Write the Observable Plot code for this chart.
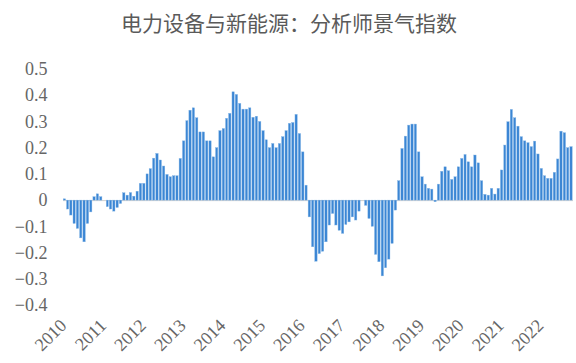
<!DOCTYPE html>
<html>
<head>
<meta charset="utf-8">
<script src="https://cdn.jsdelivr.net/npm/d3@7"></script>
<script src="https://cdn.jsdelivr.net/npm/@observablehq/plot@0.6"></script>
<style>
  html, body { margin: 0; padding: 0; background: #fff; }
  #title { height: 44px; width: 576px; text-align: center; font-family: "Noto Sans CJK SC", sans-serif;
           font-size: 21px; line-height: 44px; color: #5a5a5a; padding-left: 2px; box-sizing: border-box; }
</style>
</head>
<body>
<div id="title">电力设备与新能源：分析师景气指数</div>
<div id="chart"></div>
<script>
// Monthly analyst sentiment index, Jan 2010 – Oct 2022
const startMonth = "2010-01-01";
const endMonth = "2022-11-01";
const values = [
  0.005, -0.034, -0.057, -0.089, -0.108, -0.144, -0.159, -0.089, -0.045, 0.013, 0.024, 0.013,
  0, -0.025, -0.034, -0.042, -0.028, -0.013, 0.028, 0.019, 0.029, 0.015, 0.034, 0.064,
  0.064, 0.10, 0.12, 0.16, 0.178, 0.153, 0.13, 0.098, 0.089, 0.093, 0.093, 0.159,
  0.226, 0.303, 0.343, 0.352, 0.314, 0.26, 0.26, 0.226, 0.226, 0.165, 0.20, 0.265,
  0.273, 0.312, 0.331, 0.413, 0.403, 0.369, 0.347, 0.347, 0.352, 0.316, 0.32, 0.30,
  0.265, 0.23, 0.20, 0.216, 0.20, 0.216, 0.242, 0.265, 0.293, 0.296, 0.327, 0.254,
  0.184, 0.057, -0.064, -0.178, -0.233, -0.204, -0.195, -0.159, -0.095, -0.051, -0.095, -0.115,
  -0.127, -0.093, -0.083, -0.064, -0.076, -0.042, 0, -0.02, -0.07, -0.10, -0.207, -0.235,
  -0.289, -0.258, -0.225, -0.165, -0.038, 0.074, 0.197, 0.244, 0.286, 0.29, 0.29, 0.184,
  0.089, 0.061, 0.045, 0.042, -0.006, 0.061, 0.11, 0.127, 0.112, 0.079, 0.089, 0.127,
  0.159, 0.174, 0.146, 0.127, 0.172, 0.142, 0.074, 0.022, 0.019, 0.045, 0.023, 0.045,
  0.115, 0.21, 0.299, 0.346, 0.314, 0.282, 0.242, 0.226, 0.219, 0.204, 0.225, 0.176,
  0.121, 0.093, 0.083, 0.083, 0.106, 0.157, 0.263, 0.257, 0.20, 0.204
];
const yTicks = [-0.4, -0.3, -0.2, -0.1, 0, 0.1, 0.2, 0.3, 0.4, 0.5];
const yearTicks = d3.utcYears(new Date("2010-01-01"), new Date("2023-01-01"));

const months = d3.utcMonths(new Date(startMonth), new Date(endMonth));
const data = months.map((date, i) => ({date, value: values[i]}));

const fmtY = d => d === 0 ? "0" : (d < 0 ? "\u2212" : "") + Math.abs(d).toFixed(1);

const chart = Plot.plot({
  width: 576,
  height: 319,
  marginLeft: 63,
  marginRight: 3,
  marginTop: 25,
  marginBottom: 58,
  style: {fontFamily: "'Liberation Serif', serif", background: "#fff"},
  x: {type: "utc", domain: [new Date(startMonth), new Date(endMonth)]},
  y: {domain: [-0.4, 0.5]},
  marks: [
    Plot.ruleY([0], {stroke: "#d0d0d0", strokeWidth: 1}),
    Plot.rectY(data, {x: "date", y: "value", interval: "month", fill: "#3b86d4",
      stroke: "#86b6e6", strokeWidth: 0.4, insetLeft: 0.2, insetRight: 0.8}),
    Plot.axisY({ticks: yTicks, tickFormat: fmtY, tickSize: 0, tickPadding: 16,
      fontSize: 18, fill: "#666", label: null, style: {letterSpacing: "1.5px"}}),
    Plot.axisX({ticks: yearTicks, tickFormat: d3.utcFormat("%Y"), tickRotate: -45,
      tickSize: 0, tickPadding: 17, fontSize: 18, fill: "#666", label: null})
  ]
});
document.getElementById("chart").appendChild(chart);
</script>
</body>
</html>
